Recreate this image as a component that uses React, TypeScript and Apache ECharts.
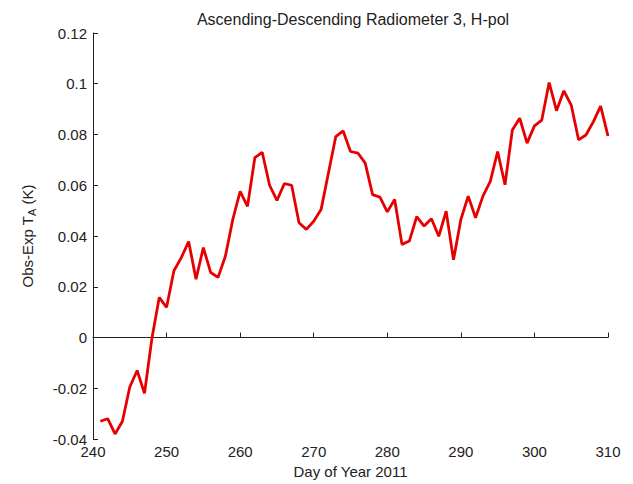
import React, { useEffect, useRef } from "react";
import * as echarts from "echarts";

const days: number[] = [];
for (let d = 241; d <= 310; d++) days.push(d);

const values: number[] = [
  -0.033, -0.032, -0.038, -0.033, -0.0195, -0.013, -0.022, -0.0005, 0.0158, 0.0119,
  0.0263, 0.0315, 0.0378, 0.023, 0.0354, 0.0256, 0.0237, 0.0321, 0.0465, 0.0576,
  0.0517, 0.0709, 0.073, 0.06, 0.054, 0.0606, 0.06, 0.0452, 0.0426, 0.0458,
  0.0504, 0.0648, 0.0792, 0.0814, 0.0733, 0.0727, 0.0687, 0.0563, 0.0553, 0.0495,
  0.0544, 0.0367, 0.038, 0.0476, 0.0439, 0.0468, 0.0399, 0.0498, 0.0306, 0.0465,
  0.0557, 0.0472, 0.0557, 0.0615, 0.0733, 0.0602, 0.0818, 0.0864, 0.0766, 0.0834,
  0.0857, 0.1005, 0.0894, 0.0972, 0.0916, 0.0779, 0.0798, 0.085, 0.0912, 0.0794,
];

const titleText = "Ascending-Descending Radiometer 3, H-pol";
const xName = "Day of Year 2011";

export default function App() {
  const ref = useRef<HTMLDivElement>(null);
  useEffect(() => {
    if (!ref.current) return;
    const chart = echarts.init(ref.current, null, { renderer: "svg" });
    const font = "Liberation Sans, Arial, sans-serif";
    const axisColor = "#222";
    const txt = "#222";
    chart.setOption({
      animation: false,
      backgroundColor: "#fff",
      textStyle: { fontFamily: font },
      title: {
        text: titleText,
        left: 348,
        top: 6,
        textAlign: "center",
        textStyle: { fontSize: 16, fontWeight: "normal", color: txt, fontFamily: font },
      },
      grid: { left: 93, right: 25, top: 33, bottom: 43, containLabel: false },
      xAxis: {
        type: "value",
        min: 240,
        max: 310,
        interval: 10,
        name: xName,
        nameLocation: "middle",
        nameGap: 25,
        nameTextStyle: { fontSize: 15, color: txt, fontFamily: font },
        axisLine: { show: true, lineStyle: { color: axisColor, width: 1 } },
        axisTick: { show: true, inside: true, length: 5, lineStyle: { color: axisColor } },
        axisLabel: { fontSize: 15, color: txt, margin: 5, fontFamily: font },
        splitLine: { show: false },
      },
      yAxis: {
        type: "value",
        min: -0.04,
        max: 0.12,
        interval: 0.02,
        name: "{n|Obs-Exp T}{s|A}{n| (K)}",
        nameLocation: "middle",
        nameGap: 56,
        nameRotate: 90,
        nameTextStyle: {
          rich: {
            n: { fontSize: 15, color: txt, fontFamily: font },
            s: { fontSize: 11, color: txt, fontFamily: font, padding: [9, 0, 0, 0] },
          },
        },
        axisLine: { show: true, lineStyle: { color: axisColor, width: 1 } },
        axisTick: { show: true, inside: true, length: 5, lineStyle: { color: axisColor } },
        axisLabel: {
          fontSize: 15,
          color: txt,
          margin: 6,
          fontFamily: font,
          formatter: (v: number) => String(Number(v.toFixed(2))),
        },
        splitLine: { show: false },
      },
      series: [
        {
          type: "line",
          data: days.map((d, i) => [d, values[i]]),
          showSymbol: false,
          symbol: "none",
          lineStyle: { color: "#e60000", width: 2.8 },
          itemStyle: { color: "#e60000" },
        },
      ],
    });
    return () => chart.dispose();
  }, []);
  return <div ref={ref} style={{ width: 633, height: 484, position: "absolute", left: 0, top: 0 }} />;
}
